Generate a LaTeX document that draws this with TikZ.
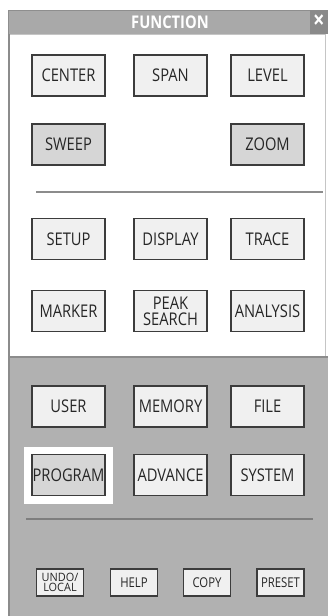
\documentclass[tikz,border=0pt]{standalone}
\usepackage{fontspec}
\usepackage{xcolor}
\setmainfont[FakeStretch=0.84]{Open Sans}
\newfontfamily\undofont[FakeStretch=0.95]{Open Sans}
\definecolor{titlegray}{HTML}{A9A9A9}
\definecolor{titleedge}{HTML}{8E8E8E}
\definecolor{closegray}{HTML}{8A8A8A}
\definecolor{panelgray}{HTML}{B1B1B1}
\definecolor{edgegray}{HTML}{8C8C8C}
\definecolor{btnfill}{HTML}{F0F0F0}
\definecolor{btndim}{HTML}{D6D6D6}
\definecolor{btnedge}{HTML}{3C3C3C}
\definecolor{btntext}{HTML}{262626}

\begin{document}
\begin{tikzpicture}[x=1pt,y=-1pt,
  btn/.style={draw=btnedge,line width=1.3pt,fill=btnfill,inner sep=0pt,
    minimum width=73pt,minimum height=41pt,text=btntext,align=center,
    font=\fontsize{17.5}{16}\selectfont},
  btndim/.style={btn,fill=btndim},
  btnsmall/.style={btn,minimum width=47pt,minimum height=27pt,
    font=\fontsize{13.5}{11}\selectfont}]
\useasboundingbox (0,0) rectangle (328,616);
\fill[white] (0,0) rectangle (328,616);

% title bar
\draw[fill=titlegray,draw=titleedge,line width=1pt] (8.5,10.5) rectangle (310,34);
\fill[closegray] (310,10) rectangle (328,34);
\node[text=white,font=\fontsize{17.5}{18}\selectfont\bfseries] (title) at (170,22) {FUNCTION};
\node[text=white,font=\fontsize{24}{24}\selectfont\bfseries] (close) at (319,21.5) {×};

% upper (white) panel
\draw[draw=edgegray!50,fill=white] (9,34) rectangle (325,357);
\draw[edgegray,line width=2pt] (9,34) -- (9,357);
\draw[edgegray,line width=1.5pt] (36,192) -- (323,192);

% lower (gray) panel
\fill[panelgray] (8,357) rectangle (328,616);
\draw[edgegray,line width=2pt] (9,357) -- (9,616);
\draw[edgegray,line width=1.5pt] (8,357) -- (328,357);
\draw[edgegray!90!black,line width=2pt] (26,519) -- (313,519);
\fill[white] (24,447) rectangle (113,504);

% buttons
\node[btn] (center) at (68.5,75.5) {CENTER};
\node[btn] (span) at (170.5,75.5) {SPAN};
\node[btn] (level) at (267.5,75.5) {LEVEL};

\node[btndim] (sweep) at (68.5,144.5) {SWEEP};
\node[btndim] (zoom) at (267.5,144.5) {ZOOM};

\node[btn] (setup) at (68.5,239) {SETUP};
\node[btn] (display) at (170.5,239) {DISPLAY};
\node[btn] (trace) at (267.5,239) {TRACE};

\node[btn] (marker) at (68.5,311) {MARKER};
\node[btn] (peak) at (170.5,311) {PEAK\\SEARCH};
\node[btn] (analysis) at (267.5,311) {ANALYSIS};

\node[btn] (user) at (68.5,406.5) {USER};
\node[btn] (memory) at (170.5,406.5) {MEMORY};
\node[btn] (file) at (267.5,406.5) {FILE};

\node[btndim] (program) at (68.5,475) {PROGRAM};
\node[btn] (advance) at (170.5,475) {ADVANCE};
\node[btn] (system) at (267.5,475) {SYSTEM};

\node[btnsmall,font=\undofont\fontsize{11.5}{10.5}\selectfont] (undo) at (60,582.5) {UNDO/\\LOCAL};
\node[btnsmall] (help) at (134,582.5) {HELP};
\node[btnsmall] (copy) at (207,582.5) {COPY};
\node[btnsmall] (preset) at (280.5,582.5) {PRESET};
\end{tikzpicture}
\end{document}
